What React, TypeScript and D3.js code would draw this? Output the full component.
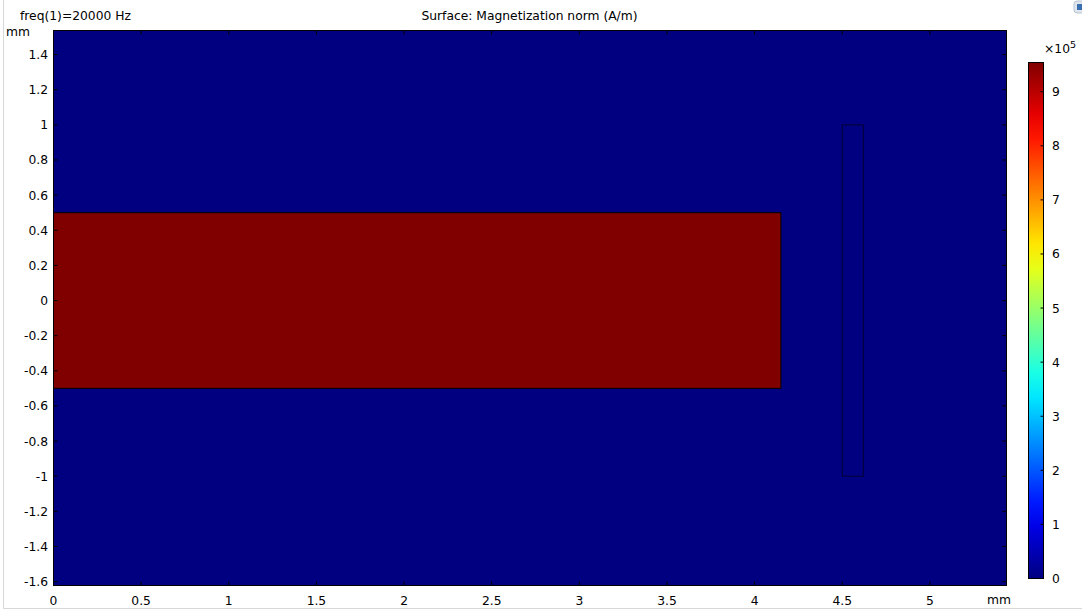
import React from "react";
import * as d3 from "d3";

const xDomain = [0, 5.437];
const yDomain = [-1.622, 1.537];
const xTicks = [0, 0.5, 1, 1.5, 2, 2.5, 3, 3.5, 4, 4.5, 5];
const yTicks = [-1.6, -1.4, -1.2, -1, -0.8, -0.6, -0.4, -0.2, 0, 0.2, 0.4, 0.6, 0.8, 1, 1.2, 1.4];
// domains: [x0, x1, y0, y1, magnetization (A/m)]
const regionNames = ["air", "magnet", "coil"];
const regionX0 = [0, 0, 4.5];
const regionX1 = [5.437, 4.15, 4.62];
const regionY0 = [-1.622, -0.5, -1];
const regionY1 = [1.537, 0.5, 1];
const regionValue = [0, 9.54e5, 0];
const cbarMax = 9.54;
const cbarTicks = [0, 1, 2, 3, 4, 5, 6, 7, 8, 9];

const jetStops: [number, string][] = [
  [0, "#000080"],
  [0.125, "#0000ff"],
  [0.375, "#00ffff"],
  [0.625, "#ffff00"],
  [0.875, "#ff0000"],
  [1, "#800000"],
];
const jet = d3
  .scaleLinear<string>()
  .domain(jetStops.map((s) => s[0]))
  .range(jetStops.map((s) => s[1]))
  .interpolate(d3.interpolateRgb);

const fmt = (v: number) => {
  const r = Math.round(v * 10) / 10;
  return String(r);
};

export default function App() {
  const W = 1082, H = 611;
  const L = 53.5, R = 1006.5, T = 30.5, B = 585.5;
  const x = d3.scaleLinear().domain(xDomain).range([L, R]);
  const y = d3.scaleLinear().domain(yDomain).range([B, T]);
  const cbX = 1028.5, cbW = 15, cbTop = 62.5, cbBot = 578.5;
  const cy = d3.scaleLinear().domain([0, cbarMax]).range([cbBot, cbTop]);
  const font = "'DejaVu Sans', sans-serif";
  const tl = 4;
  return (
    <svg width={W} height={H} style={{ position: "absolute", left: 0, top: 0, background: "#fff" }} fontFamily={font} fontSize={12.3}>
      <defs>
        <linearGradient id="jet" x1="0" y1="1" x2="0" y2="0">
          {d3.range(0, 1.0001, 0.05).map((t) => (
            <stop key={t} offset={t} stopColor={jet(t)} />
          ))}
        </linearGradient>
        <clipPath id="plot">
          <rect x={L} y={T} width={R - L} height={B - T} />
        </clipPath>
      </defs>
      <line x1={3.5} y1={0} x2={3.5} y2={608.5} stroke="#d8d8d8" />
      <line x1={3.5} y1={608.5} x2={W} y2={608.5} stroke="#d8d8d8" />
      <text x={20} y={20}>freq(1)=20000 Hz</text>
      <text x={529.5} y={20} textAnchor="middle">Surface: Magnetization norm (A/m)</text>
      <g clipPath="url(#plot)">
        {regionNames.map((n, i) => (
          <rect
            key={n}
            x={x(regionX0[i])}
            y={y(regionY1[i])}
            width={x(regionX1[i]) - x(regionX0[i])}
            height={y(regionY0[i]) - y(regionY1[i])}
            fill={jet(regionValue[i] / 1e5 / cbarMax)}
            stroke={i === 0 ? "none" : "#000"}
            strokeOpacity={i === 2 ? 0.6 : 1}
          />
        ))}
      </g>
      <rect x={L} y={T} width={R - L} height={B - T} fill="none" stroke="#000" />
      {xTicks.map((t) => (
        <g key={"x" + t}>
          <line x1={x(t)} x2={x(t)} y1={B} y2={B - tl} stroke="#000" />
          <line x1={x(t)} x2={x(t)} y1={T} y2={T + tl} stroke="#000" />
          <text x={x(t)} y={B + 19} textAnchor="middle">{fmt(t)}</text>
        </g>
      ))}
      {yTicks.map((t) => (
        <g key={"y" + t}>
          <line x1={L} x2={L + tl} y1={y(t)} y2={y(t)} stroke="#000" />
          <line x1={R} x2={R - tl} y1={y(t)} y2={y(t)} stroke="#000" />
          <text x={48} y={y(t) + 4.5} textAnchor="end">{fmt(t)}</text>
        </g>
      ))}
      <text x={6} y={36}>mm</text>
      <text x={987} y={604}>mm</text>
      <rect x={cbX} y={cbTop} width={cbW} height={cbBot - cbTop} fill="url(#jet)" stroke="#000" />
      {cbarTicks.map((t) => (
        <g key={"c" + t}>
          <line x1={cbX + cbW - 3} x2={cbX + cbW} y1={cy(t)} y2={cy(t)} stroke="#000" />
          <text x={1052} y={cy(t) + 4.5}>{t}</text>
        </g>
      ))}
      <text x={1044} y={53}>×10<tspan dy={-5} fontSize={9.5}>5</tspan></text>
      <rect x={1074} y={1} width={10} height={12} rx={3} fill="#dfe6ee" stroke="#b8c4d0" />
      <rect x={1077} y={4} width={5} height={6} fill="#3a6fb0" />
    </svg>
  );
}
